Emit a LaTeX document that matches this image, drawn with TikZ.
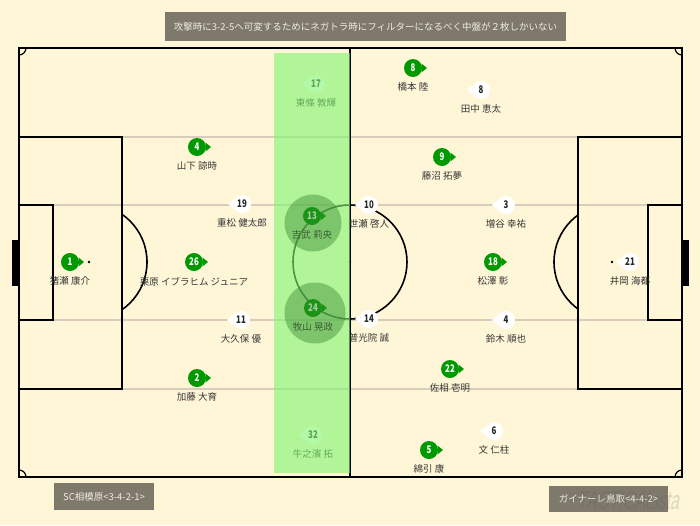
\documentclass[tikz,border=0pt]{standalone}
\usepackage{fontspec}
\setmainfont{Noto Sans CJK JP}
\newfontfamily\wmfont[FakeSlant=0.2, FakeStretch=0.62]{Liberation Sans}
\usepackage{tikz}
\usetikzlibrary{positioning}
\definecolor{turf}{RGB}{255,246,216}
\definecolor{faint}{RGB}{214,206,186}
\definecolor{sagG}{RGB}{0,153,0}
\definecolor{boxG}{RGB}{127,121,108}
\definecolor{boxT}{RGB}{240,236,226}
\definecolor{band}{RGB}{128,245,112}
\definecolor{hot}{RGB}{60,140,50}
\definecolor{ink}{RGB}{55,55,55}
\tikzset{
	pitch/.style={line width=1.6pt, black},
	home/.style={circle, fill=sagG, text=white, minimum size=18pt, inner sep=0pt, font=\fontsize{10.5}{10}\selectfont\bfseries},
	away/.style={circle, fill=white, text=black!85, minimum size=18pt, inner sep=0pt, font=\fontsize{10.5}{10}\selectfont\bfseries},
	plname/.style={text=ink, inner sep=0pt, font=\fontsize{9.5}{10}\selectfont},
	tag/.style={fill=boxG, text=boxT, inner sep=0pt, font=\fontsize{9.5}{10}\selectfont}
}
\newcommand{\nr}[1]{\scalebox{.75}[1]{#1}}
\newcommand{\sag}[5]{
	\fill[sagG](#2+8.5, #3-4.5)--(#2+14, #3)--(#2+8.5, #3+4.5)--cycle;
	\node[home](#1) at(#2, #3){\nr{#4}};
	\node[plname, below=5.5pt of #1](#1n){#5};
}
\newcommand{\tot}[5]{
	\fill[white](#2-8.5, #3-4.5)--(#2-14, #3)--(#2-8.5, #3+4.5)--cycle;
	\node[away](#1) at(#2, #3){\nr{#4}};
	\node[plname, below=5.5pt of #1](#1n){#5};
}

\begin{document}
\begin{tikzpicture}[x=1pt, y=-1pt]
	\fill[turf](0, 0) rectangle (700, 525);
	\foreach \y in {137, 205, 320, 389}
		\draw[faint, line width=1.2pt](19, \y)--(682, \y);
	\draw[pitch](19, 48) rectangle (682, 477);
	\draw[pitch](350, 48)--(350, 477);
	\draw[pitch](350, 262) circle (57pt);
	\draw[pitch](19, 137) rectangle (122, 389);
	\draw[pitch](19, 205) rectangle (53, 320);
	\draw[pitch](682, 137) rectangle (578, 389);
	\draw[pitch](682, 205) rectangle (648, 320);
	\begin{scope}
		\clip(122, 0) rectangle (200, 525);
		\draw[pitch](89, 262) circle (58pt);
	\end{scope}
	\begin{scope}
		\clip(500, 0) rectangle (578, 525);
		\draw[pitch](612, 262) circle (58pt);
	\end{scope}
	\begin{scope}
		\clip(19, 48) rectangle (682, 477);
		\foreach \p in {(19, 48), (682, 48), (19, 477), (682, 477)}
			\draw[line width=1.2pt]\p circle (7pt);
	\end{scope}
	\fill(12, 240) rectangle (19, 286);
	\fill(682, 240) rectangle (689, 286);
	\foreach \p in {(89, 262), (350, 262), (612, 262)}
		\fill\p circle (1.3pt);

	\tot{t21}{630}{262}{21}{井岡 海都}
	\tot{t3}{506}{205}{3}{増谷 幸祐}
	\tot{t10}{369}{205}{10}{世瀬 啓人}
	\tot{t14}{369}{319}{14}{普光院 誠}
	\tot{t4}{506}{320}{4}{鈴木 順也}
	\tot{t8}{481}{90}{8}{田中 恵太}
	\tot{t19}{242}{204}{19}{重松 健太郎}
	\tot{t11}{241}{320}{11}{大久保 優}
	\tot{t6}{494}{431}{6}{文 仁柱}
	\tot{t17}{316}{84}{17}{東條 敦輝}
	\tot{t32}{313}{435}{32}{牛之濱 拓}

	\fill[band, opacity=.6](274, 53) rectangle (350, 473);

	\sag{s1}{70}{262}{1}{猪瀬 康介}
	\sag{s4}{197}{147}{4}{山下 諒時}
	\sag{s26}{194}{262}{26}{栗原 イブラヒム ジュニア}
	\sag{s2}{197}{378}{2}{加藤 大育}
	\sag{s13}{312}{216}{13}{吉武 莉央}
	\sag{s24}{313}{308}{24}{牧山 晃政}
	\sag{s8}{413}{68}{8}{橋本 陸}
	\sag{s5}{429}{450}{5}{綿引 康}
	\sag{s9}{442}{157}{9}{藤沼 拓夢}
	\sag{s22}{450}{369}{22}{佐相 壱明}
	\sag{s18}{493}{262}{18}{松澤 彰}

	\fill[hot, opacity=.45](313, 223) circle (28.5pt);
	\fill[hot, opacity=.45](315, 313) circle (30.5pt);

	\node[tag, minimum width=401pt, minimum height=29pt](title) at(365.5, 26.5){攻撃時に3-2-5へ可変するためにネガトラ時にフィルターになるべく中盤が２枚しかいない};
	\node[tag, minimum width=100pt, minimum height=27pt](homeT) at(104, 496.5){SC相模原<3-4-2-1>};
	\node[tag, minimum width=119pt, minimum height=26pt](awayT) at(608.5, 499){ガイナーレ鳥取<4-4-2>};
	\node[text=black!65, opacity=.2, inner sep=0pt, font=\fontsize{26}{26}\selectfont\wmfont](mark) at(628, 500){TACTICALista};
\end{tikzpicture}
\end{document}
